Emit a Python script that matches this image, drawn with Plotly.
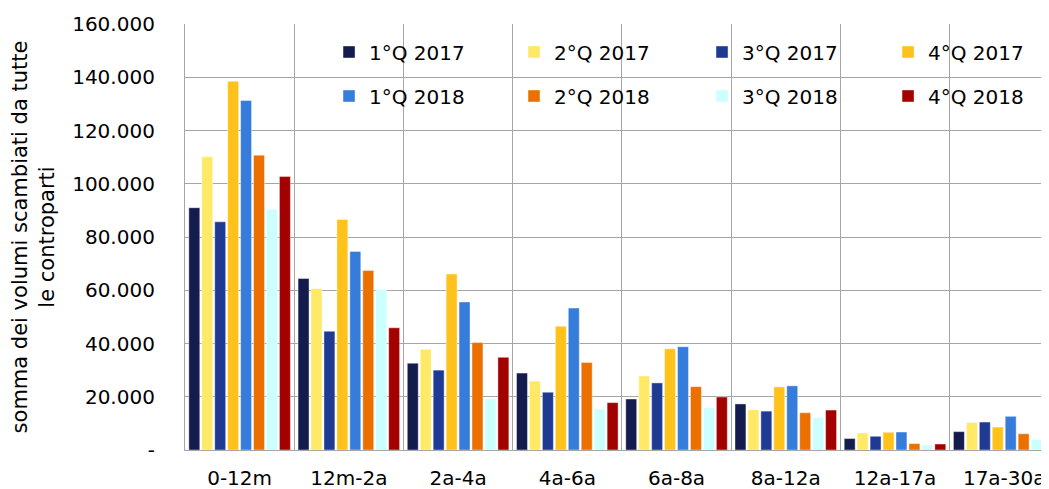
import plotly.graph_objects as go

categories = ["0-12m", "12m-2a", "2a-4a", "4a-6a", "6a-8a", "8a-12a", "12a-17a", "17a-30a"]
series_names = ["1°Q 2017", "2°Q 2017", "3°Q 2017", "4°Q 2017",
                "1°Q 2018", "2°Q 2018", "3°Q 2018", "4°Q 2018"]

q1_2017 = [91000, 64400, 32600, 28900, 19150, 17300, 4300, 6900]
q2_2017 = [110100, 60600, 37800, 25900, 27800, 15100, 6400, 10300]
q3_2017 = [85700, 44600, 30000, 21700, 25200, 14600, 5150, 10500]
q4_2017 = [138500, 86600, 66100, 46500, 38000, 23700, 6650, 8600]
q1_2018 = [131250, 74600, 55600, 53300, 38800, 24100, 6750, 12650]
q2_2018 = [110750, 67400, 40400, 32900, 23800, 14000, 2400, 6100]
q3_2018 = [90400, 60400, 19200, 15400, 15900, 12200, 1900, 4000]
q4_2018 = [102750, 45900, 34800, 17800, 19900, 15000, 2250, 2900]

series_values = [q1_2017, q2_2017, q3_2017, q4_2017, q1_2018, q2_2018, q3_2018, q4_2018]
colors = ["#141B4D", "#FFE966", "#1F3A93", "#FFC21A",
          "#367CDB", "#EC7000", "#CCFFFF", "#A30000"]

y_tick_vals = [0, 20000, 40000, 60000, 80000, 100000, 120000, 140000, 160000]
y_tick_text = ["-", "20.000", "40.000", "60.000", "80.000", "100.000", "120.000", "140.000", "160.000"]

y_title = "somma dei volumi scambiati da tutte<br>le controparti"

FONT = "DejaVu Sans"
GRID = "#A6A6A6"

# legend grid: 4 columns x 2 rows (paper x of each column, paper y of each row)
legend_cols = [0.1667, 0.3808, 0.5984, 0.8137]
legend_rows = [0.9343, 0.831]

fig = go.Figure()
legend_layout = {}
for i, (name, vals, col) in enumerate(zip(series_names, series_values, colors)):
    lname = "legend" if i == 0 else f"legend{i + 1}"
    fig.add_trace(go.Bar(
        x=categories, y=vals, name=name,
        marker=dict(color=col, line=dict(color="rgba(255,255,255,0.7)", width=0.6)),
        legend=lname,
    ))
    legend_layout[lname] = dict(
        orientation="h", x=legend_cols[i % 4], xanchor="left",
        y=legend_rows[i // 4], yanchor="middle",
        bgcolor="rgba(0,0,0,0)",
        font=dict(family=FONT, size=20, color="#000000"),
    )

# the page adds an 8px body margin, so the figure is sized/offset to compensate
fig.update_layout(
    width=1041, height=481,
    margin=dict(l=177, r=0, t=16, b=39, autoexpand=False),
    paper_bgcolor="white", plot_bgcolor="white",
    font=dict(family=FONT, size=20, color="#000000"),
    barmode="group", bargap=0.052, bargroupgap=0.154,
    showlegend=True,
    **legend_layout,
)

fig.update_xaxes(
    range=[-0.5, 7.41], tickson="boundaries", showgrid=True, gridcolor=GRID, gridwidth=1.2,
    showline=True, linecolor=GRID, linewidth=1.2, ticks="", automargin=False,
    ticklabelstandoff=10,
    tickfont=dict(family=FONT, size=20, color="#000000"),
)
fig.update_yaxes(
    range=[0, 160000], tickvals=y_tick_vals, ticktext=y_tick_text,
    showgrid=True, gridcolor=GRID, gridwidth=1.2,
    showline=True, linecolor=GRID, linewidth=1.2, zeroline=False, ticks="",
    ticklabelstandoff=25, automargin=False,
    tickfont=dict(family=FONT, size=20, color="#000000"),
    title=dict(text=y_title, font=dict(family=FONT, size=21, color="#000000"), standoff=13),
)

fig.write_html("out.html")
